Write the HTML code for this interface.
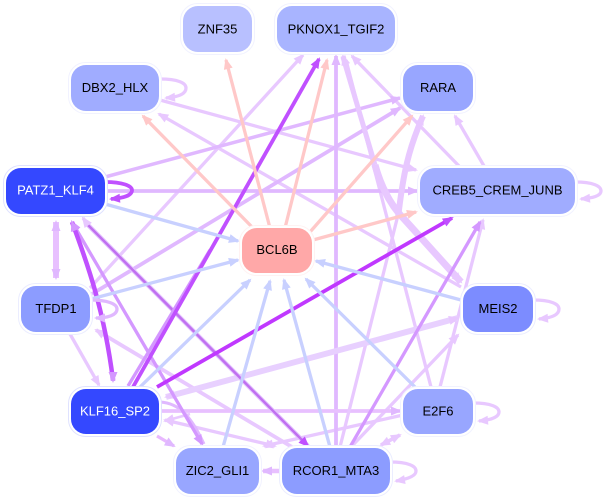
<!DOCTYPE html>
<html><head><meta charset="utf-8"><style>
html,body{margin:0;padding:0;background:#fff}
svg{display:block}
text{font-family:"Liberation Sans",sans-serif;font-size:13px;text-anchor:middle}
.e{fill:none}
</style></head><body>
<svg width="606" height="501" viewBox="0 0 606 501" xmlns="http://www.w3.org/2000/svg">
<defs>
<marker id="p" markerUnits="userSpaceOnUse" markerWidth="13" markerHeight="11" refX="9" refY="4.500" orient="auto-start-reverse" overflow="visible"><path d="M0,0L11,4.500L0,9z" fill="#ffc8c8"/></marker>
<marker id="b" markerUnits="userSpaceOnUse" markerWidth="13" markerHeight="11" refX="9" refY="4.500" orient="auto-start-reverse" overflow="visible"><path d="M0,0L11,4.500L0,9z" fill="#c8d0ff"/></marker>
<marker id="l" markerUnits="userSpaceOnUse" markerWidth="13" markerHeight="11" refX="9" refY="4.500" orient="auto-start-reverse" overflow="visible"><path d="M0,0L11,4.500L0,9z" fill="#e8c8ff"/></marker>
<marker id="m" markerUnits="userSpaceOnUse" markerWidth="13" markerHeight="11" refX="9" refY="4.500" orient="auto-start-reverse" overflow="visible"><path d="M0,0L11,4.500L0,9z" fill="#e0b8ff"/></marker>
<marker id="n" markerUnits="userSpaceOnUse" markerWidth="13" markerHeight="11" refX="9" refY="4.500" orient="auto-start-reverse" overflow="visible"><path d="M0,0L11,4.500L0,9z" fill="#d498ff"/></marker>
<marker id="d" markerUnits="userSpaceOnUse" markerWidth="13" markerHeight="11" refX="9" refY="4.500" orient="auto-start-reverse" overflow="visible"><path d="M0,0L11,4.500L0,9z" fill="#c050ff"/></marker>
</defs>
<g class="e">
<!-- light purple -->
<path d="M90,288L303,55" stroke="#e8c8ff" stroke-width="3.300" marker-end="url(#l)"/>
<path d="M160,100L416,170" stroke="#e8c8ff" stroke-width="3.300" marker-end="url(#l)"/>
<path d="M461,287L159,114" stroke="#e8c8ff" stroke-width="3.300" marker-end="url(#l)"/>
<path d="M431,387L346,60" stroke="#e8c8ff" stroke-width="3.300"/>
<path d="M459,166L352,56" stroke="#e8c8ff" stroke-width="3.300" marker-end="url(#l)"/>
<path d="M484,166L455,116" stroke="#e8c8ff" stroke-width="3.300" marker-end="url(#l)"/>
<path d="M440,387L483,220" stroke="#e8c8ff" stroke-width="3.300" marker-end="url(#l)"/>
<path d="M351,447L458,335" stroke="#e8c8ff" stroke-width="3.300" marker-end="url(#l)"/>
<path d="M403,415L264,446" stroke="#e8c8ff" stroke-width="3.300" marker-end="url(#l)"/>
<path d="M165,420L275,446" stroke="#e8c8ff" stroke-width="3.300" marker-start="url(#l)" marker-end="url(#l)"/>
<path d="M96,330L292,447" stroke="#e8c8ff" stroke-width="3.800" marker-start="url(#l)"/>
<path d="M70,334L99,385" stroke="#e8c8ff" stroke-width="3.300" marker-end="url(#l)"/>
<path d="M157,436L174,446" stroke="#e8b8ff" stroke-width="3.300" marker-end="url(#m)"/>
<path d="M381,445L400,435" stroke="#e8c8ff" stroke-width="3.800" marker-start="url(#l)" marker-end="url(#l)"/>
<path d="M165,421L190,414" stroke="#e8c8ff" stroke-width="2.500" marker-start="url(#l)"/>
<path d="M160,402C180,403 192,418 204,444" stroke="#e0b8ff" stroke-width="3"/>
<!-- medium purple -->
<path d="M105,177L400,98" stroke="#e0b8ff" stroke-width="3.500" marker-end="url(#m)"/>
<path d="M92,294L400,108" stroke="#e0b8ff" stroke-width="3.800" marker-end="url(#m)"/>
<path d="M105,191L417,191" stroke="#e0b8ff" stroke-width="3.800" marker-end="url(#m)"/>
<path d="M336,448L336,56" stroke="#e0b8ff" stroke-width="3.800" marker-end="url(#m)"/>
<path d="M160,411L400,411" stroke="#e8c0ff" stroke-width="3.800" marker-end="url(#m)"/>
<path d="M56,222L56,278" stroke="#e8c0ff" stroke-width="6" marker-start="url(#m)" marker-end="url(#m)"/>
<path d="M282,471L263,471" stroke="#e8c0ff" stroke-width="4.500" marker-end="url(#m)"/>
<path d="M340,447L398,215" stroke="#e8c8ff" stroke-width="3.300"/>
<path d="M398,218C403,175 408,150 423,116" stroke="#e8c8ff" stroke-width="6" marker-end="url(#l)"/>
<path d="M343,57L375,165" stroke="#e8c8ff" stroke-width="5"/>
<path d="M343,56L344,59" stroke="#e8c8ff" stroke-width="5" marker-start="url(#l)"/>
<path d="M375,165C382,190 392,207 405,220L461,282" stroke="#e8c8ff" stroke-width="7" marker-end="url(#l)"/>
<path d="M166,397C230,380 320,356 458,318" stroke="#e8d0ff" stroke-width="6" marker-start="url(#l)" marker-end="url(#l)"/>
<!-- dark purple -->
<path d="M350,447L480,222" stroke="#d498ff" stroke-width="3.300" marker-end="url(#n)"/>
<path d="M72,222L202,444" stroke="#d498ff" stroke-width="3.300" marker-start="url(#n)" marker-end="url(#n)"/>
<path d="M87,224L308,446" stroke="#e4c4ff" stroke-width="4.500"/>
<path d="M88,225L308,446" stroke="#c070f0" stroke-width="2.500" marker-end="url(#d)"/>
<path d="M83,218L88,225" stroke="#e8c8ff" stroke-width="3.300" marker-start="url(#l)"/>
<path d="M72,222C88,265 104,310 113,380" stroke="#c050ff" stroke-width="4.500" marker-start="url(#n)"/>
<path d="M113,378L113,381" stroke="#d498ff" stroke-width="4.500" marker-end="url(#n)"/>
<path d="M128,386L210,250" stroke="#d498ff" stroke-width="3.300"/>
<path d="M133,387L319,59" stroke="#c050ff" stroke-width="3.800" marker-end="url(#d)"/>
<path d="M157,387L452,218" stroke="#c038ff" stroke-width="3.800" marker-end="url(#d)"/>
<!-- pink -->
<path d="M270,228L226,60" stroke="#ffc8c8" stroke-width="3.300" marker-end="url(#p)"/>
<path d="M253,228L143,116" stroke="#ffc8c8" stroke-width="3.300" marker-end="url(#p)"/>
<path d="M285,228L327,60" stroke="#ffc8c8" stroke-width="3.300" marker-end="url(#p)"/>
<path d="M310,232L412,116" stroke="#ffc8c8" stroke-width="3.300" marker-end="url(#p)"/>
<path d="M313,240L416,212" stroke="#ffc8c8" stroke-width="3.300" marker-end="url(#p)"/>
<!-- blue -->
<path d="M105,204L238,241" stroke="#c8d0ff" stroke-width="3.300" marker-end="url(#b)"/>
<path d="M91,299L238,260" stroke="#c8d0ff" stroke-width="3.300" marker-end="url(#b)"/>
<path d="M140,387L250,280" stroke="#c8d0ff" stroke-width="3.300" marker-end="url(#b)"/>
<path d="M223,447L270,281" stroke="#c8d0ff" stroke-width="3.300" marker-end="url(#b)"/>
<path d="M330,447L284,280" stroke="#c8d0ff" stroke-width="3.300" marker-end="url(#b)"/>
<path d="M415,387L306,279" stroke="#c8d0ff" stroke-width="3.300" marker-end="url(#b)"/>
<path d="M461,300L316,261" stroke="#c8d0ff" stroke-width="3.300" marker-end="url(#b)"/>
<!-- self loops -->
<path d="M160,79C178,79 186,83 186,88C186,94 178,97 166,98" stroke="#e8c8ff" stroke-width="3.300" marker-end="url(#l)"/>
<path d="M105,182C123,182 132,186 132,190C132,196 123,198 111,199" stroke="#c050ff" stroke-width="3.800" marker-end="url(#d)"/>
<path d="M575,182C593,182 601,186 601,191C601,196 593,198 581,199" stroke="#e8c8ff" stroke-width="3.300" marker-end="url(#l)"/>
<path d="M90,300C108,300 117,304 117,309C117,315 108,318 96,318" stroke="#e0b8ff" stroke-width="3.300" marker-end="url(#m)"/>
<path d="M533,300C551,300 559,304 559,309C559,315 551,318 539,319" stroke="#e8c8ff" stroke-width="3.300" marker-end="url(#l)"/>
<path d="M473,403C491,403 499,407 499,412C499,417 491,420 479,421" stroke="#e8c8ff" stroke-width="3.300" marker-end="url(#l)"/>
<path d="M390,462C408,462 416,466 416,471C416,476 408,479 396,481" stroke="#e8c8ff" stroke-width="3.300" marker-end="url(#l)"/>
</g>
<!-- nodes -->
<g>
<rect x="3.500" y="165.500" width="104" height="51" rx="17" fill="#fff" stroke="#dfe2ff"/>
<rect x="6" y="168" width="99" height="46" rx="15" fill="#3448ff"/>
<rect x="68.500" y="386.500" width="93" height="50" rx="17" fill="#fff" stroke="#dfe2ff"/>
<rect x="71" y="389" width="88" height="45" rx="15" fill="#3448ff"/>
<rect x="180.500" y="3.500" width="74" height="51" rx="17" fill="#fff" stroke="#f1f2ff"/>
<rect x="183" y="6" width="69" height="46" rx="15" fill="#b8c0ff"/>
<rect x="274.500" y="3.500" width="123" height="51" rx="17" fill="#fff" stroke="#f1f2ff"/>
<rect x="277" y="6" width="118" height="46" rx="15" fill="#a8b4ff"/>
<rect x="68.500" y="62.500" width="93" height="51" rx="17" fill="#fff" stroke="#f1f2ff"/>
<rect x="71" y="65" width="88" height="46" rx="15" fill="#a0acff"/>
<rect x="400.500" y="62.500" width="75" height="51" rx="17" fill="#fff" stroke="#f1f2ff"/>
<rect x="403" y="65" width="70" height="46" rx="15" fill="#98a6ff"/>
<rect x="417.500" y="165.500" width="160" height="51" rx="17" fill="#fff" stroke="#f1f2ff"/>
<rect x="420" y="168" width="155" height="46" rx="15" fill="#a0acff"/>
<rect x="239.500" y="225.500" width="75" height="50" rx="17" fill="#fff" stroke="#fff2f2"/>
<rect x="242" y="228" width="70" height="45" rx="15" fill="#ffa8a8"/>
<rect x="18.500" y="283.500" width="74" height="51" rx="17" fill="#fff" stroke="#ebedff"/>
<rect x="21" y="286" width="69" height="46" rx="15" fill="#8c9cff"/>
<rect x="460.500" y="283.500" width="75" height="51" rx="17" fill="#fff" stroke="#ebedff"/>
<rect x="463" y="286" width="70" height="46" rx="15" fill="#7c8cff"/>
<rect x="400.500" y="386.500" width="75" height="50" rx="17" fill="#fff" stroke="#f1f2ff"/>
<rect x="403" y="389" width="70" height="45" rx="15" fill="#98a6ff"/>
<rect x="173.500" y="445.500" width="88" height="51" rx="17" fill="#fff" stroke="#f1f2ff"/>
<rect x="176" y="448" width="83" height="46" rx="15" fill="#98a6ff"/>
<rect x="279.500" y="445.500" width="113" height="51" rx="17" fill="#fff" stroke="#ebedff"/>
<rect x="282" y="448" width="108" height="46" rx="15" fill="#8c9cff"/>
</g>
<text x="217.500" y="33.500" fill="#000">ZNF35</text>
<text x="336" y="33.500" fill="#000">PKNOX1_TGIF2</text>
<text x="115" y="92" fill="#000">DBX2_HLX</text>
<text x="438" y="92" fill="#000">RARA</text>
<text x="55.500" y="194.500" fill="#fff">PATZ1_KLF4</text>
<text x="497.500" y="194.500" fill="#000">CREB5_CREM_JUNB</text>
<text x="277" y="254" fill="#000">BCL6B</text>
<text x="56" y="313" fill="#000">TFDP1</text>
<text x="498" y="313" fill="#000">MEIS2</text>
<text x="115" y="415.500" fill="#fff">KLF16_SP2</text>
<text x="438" y="415.500" fill="#000">E2F6</text>
<text x="217.500" y="475" fill="#000">ZIC2_GLI1</text>
<text x="336" y="475" fill="#000">RCOR1_MTA3</text>
</svg>
</body></html>
